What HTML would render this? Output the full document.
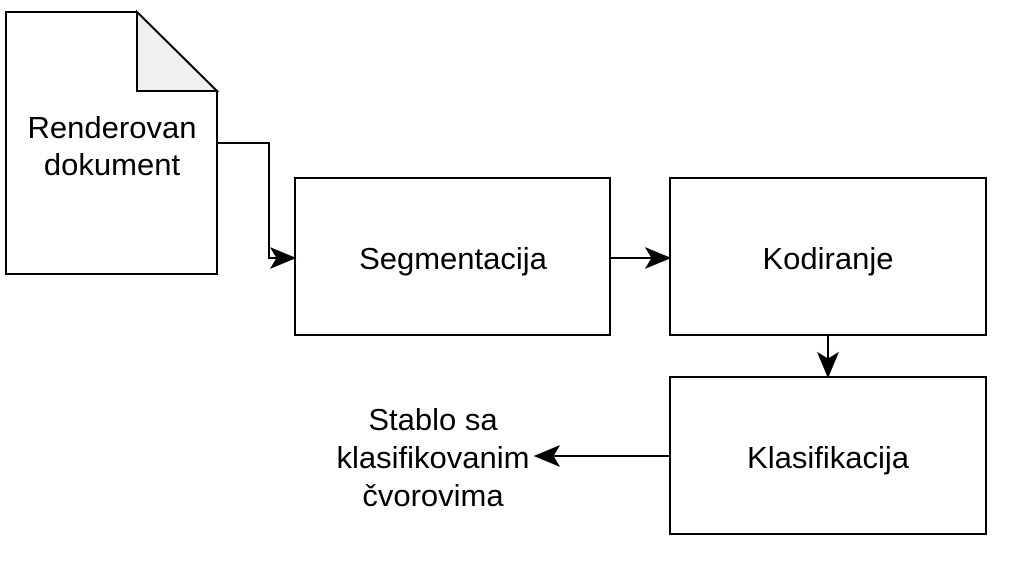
<!DOCTYPE html>
<html><head><meta charset="utf-8"><style>html,body{margin:0;padding:0;background:#fff;}</style></head>
<body>
<svg width="1028" height="580" viewBox="0 0 1028 580" xmlns="http://www.w3.org/2000/svg" style="display:block">
<g fill="none" stroke="#000" stroke-width="2">
<path d="M6,12 H137 L217,91 V274 H6 Z" fill="#fff"/>
<path d="M137,12 V91 H217 Z" fill="#f0f0f0"/>
<rect x="295" y="178" width="315" height="157" fill="#fff"/>
<rect x="670" y="178" width="316" height="157" fill="#fff"/>
<rect x="670" y="377" width="316" height="157" fill="#fff"/>
<path d="M217,143 H269 V258 H280"/>
<path d="M610,258 H655"/>
<path d="M828,335 V362"/>
<path d="M670,456 H550"/>
</g>
<g fill="#000" stroke="#000" stroke-width="1">
<path d="M295,258 L271,248 L277,258 L271,268 Z"/>
<path d="M670,258 L646,248 L652,258 L646,268 Z"/>
<path d="M828,377 L818,353 L828,359 L838,353 Z"/>
<path d="M535,456 L559,446 L553,456 L559,466 Z"/>
</g>
<g font-family="Liberation Sans, sans-serif" font-size="31" text-anchor="middle" fill="#000">
<text x="112" y="138">Renderovan</text>
<text x="112" y="175">dokument</text>
<text x="453" y="269">Segmentacija</text>
<text x="828" y="269">Kodiranje</text>
<text x="828" y="468">Klasifikacija</text>
<text x="433" y="430">Stablo sa</text>
<text x="433" y="468">klasifikovanim</text>
<text x="433" y="506">čvorovima</text>
</g>
</svg>
</body></html>
